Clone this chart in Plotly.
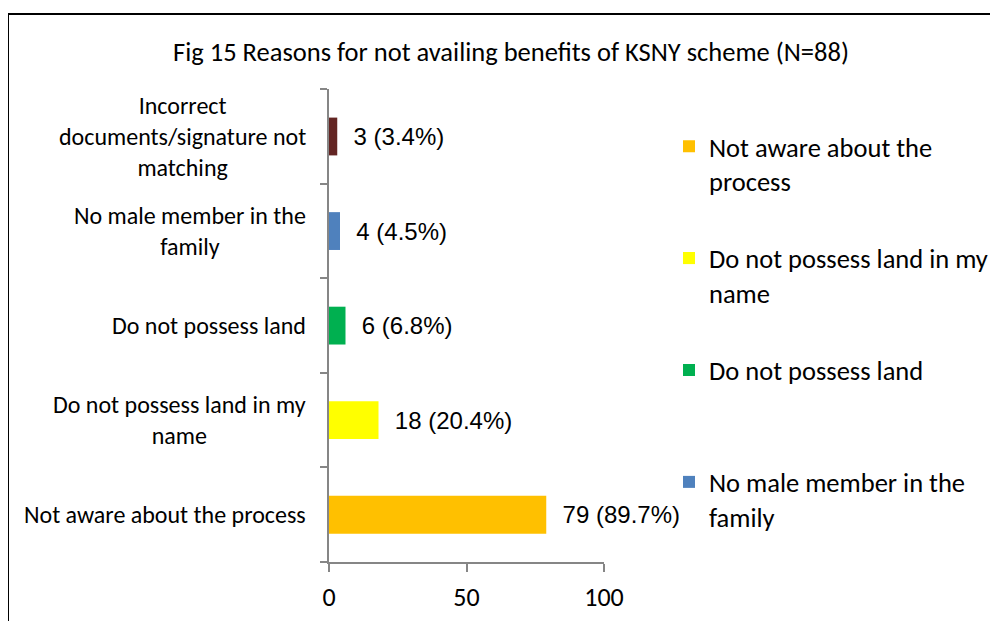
import plotly.graph_objects as go

categories = [
    "Not aware about the process",
    "Do not possess land in my name",
    "Do not possess land",
    "No male member in the family",
    "Incorrect documents/signature not matching",
]
axis_labels = [
    "Not aware about the process",
    "Do not possess land in my<br>name",
    "Do not possess land",
    "No male member in the<br>family",
    "Incorrect<br>documents/signature not<br>matching",
]
legend_labels = [
    "Not aware about the<br>process",
    "Do not possess land in my<br>name",
    "Do not possess land<br>\u00a0",
    "No male member in the<br>family",
    "Incorrect documents/signature not<br>matching",
]
counts = [79, 18, 6, 4, 3]
percents = [89.7, 20.4, 6.8, 4.5, 3.4]
colors = ["#FFC000", "#FFFF00", "#00B050", "#4F81BD", "#632523"]
x_ticks = [0, 50, 100]

BODY = "Carlito, Calibri, Lato, sans-serif"
NARROW = "Liberation Sans Narrow, Arial Narrow, Liberation Sans, sans-serif"

# figure coordinates (page has an 8px body margin)
W, H = 990, 613
x0, x1, y0, y1 = 321, 596, 81, 554.5
pw, ph = x1 - x0, y1 - y0
def px(v): return (v - x0) / pw
def py(v): return (y1 - v) / ph

fig = go.Figure()
for i, cat in enumerate(categories):
    fig.add_trace(go.Bar(
        y=[cat], x=[counts[i]], orientation="h",
        name=legend_labels[i], legendgroup=f"g{i}",
        marker=dict(color=colors[i], line=dict(width=0)),
        text=[f"\u00a0\u00a0{counts[i]} ({percents[i]}%)"],
        textposition="outside", cliponaxis=False, constraintext="none",
        textfont=dict(family=NARROW, size=24, color="#000000"),
        showlegend=(i < 4),
    ))

for i, cat in enumerate(categories):
    fig.add_annotation(
        x=px(300), xref="paper", y=cat, yref="y",
        text=axis_labels[i], showarrow=False, xanchor="right", yanchor="middle",
        align="center", font=dict(family=BODY, size=24, color="#000000"),
    )

fig.add_shape(type="rect", xref="paper", yref="paper",
              x0=px(0), x1=px(1010), y0=py(640), y1=py(6),
              line=dict(color="#000000", width=2), fillcolor="rgba(0,0,0,0)", layer="above")

fig.update_layout(
    width=W, height=H,
    margin=dict(l=x0, r=W - x1, t=y0, b=H - y1, autoexpand=False),
    paper_bgcolor="white", plot_bgcolor="white",
    barmode="overlay", bargap=0.6,
    title=dict(text="Fig 15 Reasons for not availing benefits of KSNY scheme (N=88)",
               x=503 / W, xanchor="center", y=1 - 44 / H, yanchor="middle",
               font=dict(family=BODY, size=26.5, color="#000000")),
    xaxis=dict(range=[0, 100], tickvals=x_ticks, ticks="outside", ticklen=8,
               tickcolor="#868686", tickwidth=1.5, showline=True, linecolor="#868686",
               linewidth=1.5, showgrid=False, zeroline=False, ticklabelstandoff=3,
               tickfont=dict(family=BODY, size=26, color="#000000")),
    yaxis=dict(categoryorder="array", categoryarray=categories, type="category",
               tickson="boundaries", ticks="outside", ticklen=7, tickcolor="#868686",
               tickwidth=1.5, showline=True, linecolor="#868686", linewidth=1.5,
               showgrid=False, showticklabels=False, zeroline=False),
    legend=dict(x=px(661), xanchor="left", y=py(114.5), yanchor="top",
                traceorder="grouped", tracegroupgap=40, valign="top",
                font=dict(family=BODY, size=26.5, color="#000000"),
                bgcolor="rgba(0,0,0,0)"),
    showlegend=True,
)

fig.write_html("out.html")
